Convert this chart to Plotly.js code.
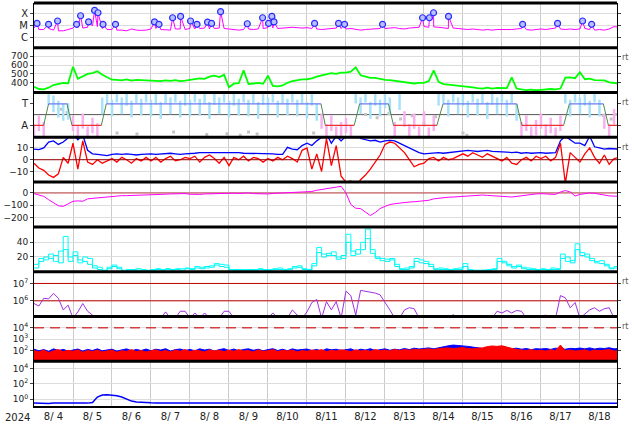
<!DOCTYPE html>
<html><head><meta charset="utf-8">
<script src="https://cdn.plot.ly/plotly-3.0.1.min.js"></script>
<style>html,body{margin:0;padding:0;background:#fff}#chart{width:634px;height:424px}</style>
</head><body><div id="chart"></div>
<script>
// ---------- categories / labels ----------
const dayLabels = ['8/ 4','8/ 5','8/ 6','8/ 7','8/ 8','8/ 9','8/10','8/11','8/12','8/13','8/14','8/15','8/16','8/17','8/18'];
const yearLabel = '2024';
const STEP = 0.125; // sample spacing in days (3 h)
const X_END = 14.95;

// ---------- panel 1: X-ray flux (units 1e-6 W/m2) ----------
const xrsBg = [
 6,4.5,4.5,5.5,4,3.5,3.5,4.5,  6,6.5,6,7,9,8,5.5,4.5,  4.5,4,4,3.5,5,4,3.8,4,  5,5.5,4.5,4.5,4,5,5,4.5,
 5.5,5,5.5,6,5,5.5,6,5.5,  5,4.5,4,4.5,5,4.5,5,5.5,  6.5,6,5.5,6,6.5,7,6.5,6,  6.5,5.5,5,4.5,5,5.5,6,5.5,
 5,5.5,4.5,4,4.5,5,5,5.5,  5.5,6,6.5,5.5,5,6,6.5,7,  8,7,7.5,7,6,5.5,6,5.5,  5,4.5,5,4.5,4,4.5,4,4.5,
 4.5,4,4.5,5,5.5,4.5,4,4.5,  5,4.5,5,6,5,4.5,5,4.5,  5,5.5,4.5,4,4.5,4,5,8,  7];
const flareT = [0.077,0.374,0.605,1.092,1.195,1.40,1.554,1.641,1.77,2.09,3.09,3.205,3.554,3.759,4.015,4.18,4.45,4.554,
 4.785,5.469,5.862,6.015,6.10,6.154,7.195,7.81,7.964,8.938,9.964,10.14,10.246,10.63,12.53,13.426,14.067,14.30];
const flareV = [15,12.5,24,12.5,67,20,190,120,12.5,12.5,20,12.5,45,59,24,12.5,19,15,
 150,14,45,15,59,20,15,15,12.5,12.5,45,45,120,59,12.5,15,24,12.5];
const xrsTickVals = [1e-4,1e-5,1e-6];
const xrsTickText = ['X','M','C'];

// ---------- panel 2: solar wind speed ----------
const speed = [
 355,330,327,345,375,390,398,395,  580,445,470,500,510,530,490,460,  435,432,428,438,425,432,430,426,
 430,425,420,428,422,430,418,425,  432,440,450,445,470,480,465,490,  350,390,395,540,385,392,398,388,
 480,365,360,370,400,420,430,438,  440,450,470,485,500,510,500,515,  515,525,575,485,470,455,455,440,
 433,430,422,415,405,398,392,400,  400,420,540,410,385,380,375,368,  365,355,348,340,335,345,335,342,
 345,340,460,335,325,318,322,316,  320,325,330,325,335,458,462,452,  520,440,448,430,425,428,405,398,  392];

// ---------- panel 3: IMF sector ----------
const sectorLevels = [0,1,0,1,0,1,0,1,0,1,0];     // 1 = T (toward), 0 = A (away)
const rampStart = [0.246,0.846,1.726,7.36,8.21,9.09,10.33,12.38,13.58,14.60];
const rampEnd   = [0.374,0.974,1.854,7.47,8.35,9.22,10.49,12.51,13.73,14.73];
const phi = [
 -0.3,0.1,-0.2,1.35,1.0,0.75,0.6,0.65,  0.1,-0.35,0.2,-0.4,0.0,-0.25,0.9,1.4,  0.8,1.45,0.9,1.3,0.75,1.4,0.85,1.45,
 0.8,1.35,0.7,1.4,0.9,1.45,0.75,1.3,  0.8,1.45,0.85,1.4,0.7,1.35,0.9,1.45,  0.75,1.3,0.85,1.45,0.8,1.4,0.7,1.35,
 0.9,1.45,0.75,1.4,0.85,1.45,0.8,1.4,  0.7,1.3,0.6,0.2,-0.3,0.1,-0.4,-0.2,  0.0,-0.35,1.4,0.9,1.45,0.7,1.3,0.8,
 1.2,0.9,-0.2,1.1,0.3,-0.3,0.2,-0.4,  0.3,-0.45,0.1,1.3,1.4,0.8,1.45,0.9,  1.3,0.75,1.45,0.85,1.4,0.7,1.35,0.9,
 1.45,0.8,1.4,0.6,-0.2,0.1,-0.4,-0.1,  0.2,-0.3,0.0,-0.45,0.1,1.4,0.8,1.45,  0.9,1.3,0.75,1.45,0.8,0.2,-0.3,0.4,  0.1];
const grayT = [0.70,0.85,2.13,2.64,3.58,4.43,4.95,5.29,5.50,5.72,7.17,8.50,8.80,9.10,9.40,9.70,10.00,10.30,11.00,11.10,14.60,14.80,14.90];
const grayV = [0.75,0.6,-0.35,-0.4,-0.3,-0.42,-0.38,-0.45,-0.3,-0.4,-0.35,0.5,0.35,0.55,0.3,0.45,0.1,0.4,-0.35,-0.45,0.45,0.3,0.5];

// ---------- panel 4: Bt / Bz ----------
const bt = [
 9,8.5,10,15,16,13,15,18,  22,17,21,8,5,4.5,4,3.5,  4.5,5,4.5,5,4.5,4,4.5,5,  5,4.5,5,5,5.5,5,4.5,5,
 5,5.5,6,6,6.5,6.5,6,6.5,  6.5,6,6,5.5,5.5,5,5.5,5,  5,5,4.5,4.5,10.5,9,8.5,12,  14,12,16,19,22,14,20,16,
 20,19,22,18,17,16,16.5,15,  16,16.5,16,14,12,10,8,6,  5,5.5,6,6,5.5,6,6.5,7,  7.5,8,7.5,7,7.5,8,7,7,
 7,6.5,6,6.5,5.5,6,5.5,6,  6,5.5,6,6,16,20,17,14,  14,12,20,11,10,9,9.5,9,  9];
const bz = [
 -3,-7,-9,-13,-15,-12,2,-3,  14,-8,16,-2,-4,0,-3,-1,  1,-2,2,0,-3,1,-1,2,  -1,2,-2,1,3,-1,0,2,
 1,3,-2,2,4,1,-3,2,  -5,2,0,3,-1,2,1,-2,  1,-1,2,0,3,1,-2,8,  10,-8,5,-10,18,-5,12,-14,
 -19,-18,-22,-17,-13,-8,-2,4,  13,15,14,10,6,0,-6,-4,  -3,1,2,-1,2,0,1,3,  5,3,6,4,2,5,3,1,
 -1,2,-3,-4,0,2,-1,3,  1,3,-1,2,14,-20,6,2,  -2,5,10,2,-3,4,-4,1,  2];

// ---------- panel 5: Dst ----------
const dst = [
 -5,-15,-28,-55,-80,-105,-110,-88,  -68,-65,-68,-48,-44,-40,-33,-28,  -25,-24,-22,-22,-21,-22,-20,-18,
 -16,-14,-12,-10,-8,-6,-8,-5,  -10,-14,-12,-8,-6,-4,-2,-4,  0,-2,-4,-2,0,-5,-8,-6,
 -8,-4,-2,0,2,5,10,8,  8,12,22,30,35,42,48,55,  0,-95,-125,-128,-160,-185,-160,-128,
 -110,-95,-88,-82,-76,-74,-72,-70,  -67,-60,-48,-42,-38,-35,-33,-30,  -25,-22,-20,-18,-17,-20,-22,-20,
 -25,-30,-33,-28,-18,-12,-10,-8,  -6,-10,-14,-12,8,20,8,-25,  -12,-5,0,-3,-10,-20,-24,-26,  -27];

// ---------- panel 6: two cyan indices ----------
const cyanA = [
 10,18,16,24,14,28,48,20,  27,12,20,18,8,6,2,6,  9,6,2,3,2,4,3,2,  3,4,3,3,2,4,4,5,
 4,7,6,5,8,11,10,9,  3,2,3,3,2,3,4,3,  3,4,5,3,4,7,8,4,  3,11,33,24,22,27,20,18,
 51,22,30,40,58,30,18,18,  17,16,10,4,5,7,18,16,  14,10,4,5,4,3,4,5,  11,3,2,2,2,3,4,18,
 14,8,7,9,6,5,4,3,  4,3,5,4,24,14,15,38,  26,20,18,14,15,10,5,7,  18];
const cyanB = [
 5,14,20,18,22,12,30,14,  22,16,14,10,5,3,1,4,  7,4,1,2,3,2,2,1,  2,3,2,4,3,3,2,4,
 3,5,4,7,6,9,7,6,  2,3,2,2,3,2,3,2,  2,3,3,2,3,5,6,3,  2,8,26,20,25,22,17,22,
 40,28,24,30,45,25,20,15,  14,18,7,3,3,5,14,12,  11,7,3,3,3,2,3,3,  7,2,1,1,2,2,3,14,
 12,10,5,7,4,3,3,2,  3,2,3,3,18,20,12,30,  22,24,15,12,11,8,4,5,  12];

// ---------- panel 7: electron flux ----------
const eFlux = [
 7e5,5e5,1.4e6,1.3e6,2.7e6,1.4e6,3e5,5.6e5,  1e5,2.3e5,7e5,2.5e5,1.5e5,1e5,1e5,1e5,  1e5,1e5,1e5,1e5,1e5,1e5,1e5,1e5,
 1e5,1e5,1e5,2.3e5,1e5,1e5,2.5e5,2.5e5,  1e5,2e5,1e5,2e5,1e5,1e5,1e5,2.5e5,  2.5e5,1e5,1e5,1.4e5,1e5,1e5,1e5,1e5,
 1e5,2e5,1e5,1e5,1e5,3e5,1.5e5,1e5,  2.3e5,8e5,1.2e6,1e5,9e5,3e5,9e5,1e5,  3.6e6,2e6,1.5e5,4e6,3.5e6,3e6,2.8e6,2.2e6,
 8.7e5,3e5,1e5,1e5,3e5,4e5,3.5e5,1e5,  1e5,1e5,1e5,1e5,1e5,1e5,1.6e5,1e5,  1e5,1e5,1e5,1e5,1.4e5,1e5,1e5,2.5e5,
 2e5,2.8e5,2e5,2.8e5,2.5e5,1e5,1e5,1e5,  1.3e5,1.5e5,1e5,1e5,2e6,1.5e6,4e5,8e5,  1e5,1.8e5,3e5,4e5,2.5e5,3.5e5,4e5,1e5,  1e5];
const eThresholds = [1e6, 1e7];

// ---------- panel 8: proton flux ----------
const pBlue = [
 130,95,120,85,140,100,125,90,  110,135,90,125,100,140,95,120,  130,90,115,140,95,125,100,135,
 95,130,110,145,90,120,135,100,  125,95,140,110,130,90,120,145,  100,135,95,125,140,105,130,95,
 120,145,100,130,95,140,110,125,  135,100,125,90,140,115,130,100,  120,140,95,130,110,145,100,125,
 140,105,130,115,150,120,160,135,  150,170,140,180,210,260,300,280,  270,230,200,170,150,180,160,200,
 230,180,140,160,130,150,120,145,  135,150,125,160,140,130,155,145,  165,140,170,135,160,150,175,140,  150];
const pRed = [
 100,75,110,65,95,120,80,105,  85,115,70,100,80,110,75,95,  110,70,95,85,120,80,100,75,
 90,115,80,100,75,110,85,120,  80,105,95,75,115,90,105,80,  110,85,120,90,100,75,115,85,
 95,120,80,105,90,110,75,100,  85,110,95,120,80,105,90,115,  100,80,115,90,105,85,120,95,
 110,90,125,100,120,105,130,115,  125,140,120,150,160,170,150,160,  180,150,140,160,170,220,250,230,
 260,200,150,120,110,100,120,95,  105,90,115,100,300,95,110,90,  100,115,85,110,95,105,120,90,  100];
const pThreshold = 1e4;

// ---------- panel 9: bottom flux ----------
const lowFlux = [
 0.3,0.28,0.3,0.27,0.3,0.29,0.28,0.3,  0.3,0.29,0.3,0.3,0.35,1.9,3.5,3.8,  3.6,2.8,1.9,1.0,0.55,0.42,0.36,0.34,
 0.33,0.32,0.32,0.31,0.3,0.31,0.3,0.3,  0.29,0.3,0.28,0.3,0.29,0.3,0.28,0.29,  0.3,0.29,0.28,0.3,0.29,0.28,0.3,0.29,
 0.28,0.3,0.29,0.28,0.3,0.29,0.3,0.28,  0.29,0.3,0.28,0.29,0.3,0.29,0.28,0.3,  0.3,0.29,0.3,0.28,0.29,0.3,0.29,0.28,
 0.29,0.28,0.3,0.29,0.3,0.28,0.29,0.3,  0.3,0.29,0.31,0.3,0.29,0.3,0.28,0.29,  0.29,0.3,0.29,0.31,0.3,0.29,0.3,0.29,
 0.3,0.29,0.28,0.3,0.29,0.3,0.29,0.28,  0.29,0.3,0.29,0.28,0.3,0.29,0.3,0.29,  0.28,0.29,0.3,0.29,0.28,0.3,0.29,0.3,  0.29];

// ---------- build ----------
const t3 = speed.map((_, i) => i * STEP);
const FONT = 'DejaVu Sans, sans-serif';
const traces = [];
function add(tr, panel) { tr.xaxis = 'x'; tr.yaxis = panel === 1 ? 'y' : 'y' + panel; tr.hoverinfo = 'skip'; traces.push(tr); }
function hline(val, panel, color, width, dash) {
  add({type:'scatter', mode:'lines', x:[0, X_END], y:[val, val], line:{color:color, width:width, dash:dash||'solid'}}, panel);
}

// panel 1
const xrsPts = t3.map((t, i) => [t, xrsBg[i]]).concat(flareT.map((t, i) => [t, flareV[i]])).sort((a, b) => a[0] - b[0]);
add({type:'scatter', mode:'lines', x:xrsPts.map(p => p[0]), y:xrsPts.map(p => p[1] * 1e-6), line:{color:'#ff00ff', width:1}}, 1);
add({type:'scatter', mode:'markers', x:flareT, y:flareV.map(v => v * 1e-6),
     marker:{symbol:'circle', size:6, color:'#b8c0ff', line:{color:'#2a2aff', width:1.2}}}, 1);

// panel 2
add({type:'scatter', mode:'lines', x:t3, y:speed, line:{color:'#00ff00', width:1.8}}, 2);

// panel 3
hline(0.5, 3, '#555555', 1);
add({type:'scatter', mode:'markers', x:grayT, y:grayV, marker:{color:'#c4c4c4', size:3, symbol:'square'}}, 3);
add({type:'scatter', mode:'markers', x:t3, y:phi.map(v => v >= 0.5 ? v : null),
     marker:{symbol:'line-ns-open', size:12, color:'#a8e2f8', line:{color:'#a8e2f8', width:2.5}}}, 3);
add({type:'scatter', mode:'markers', x:t3, y:phi.map(v => v < 0.5 ? v : null),
     marker:{symbol:'line-ns-open', size:11, color:'#f8b0ee', line:{color:'#f8b0ee', width:2.5}}}, 3);
(function() {
  const tx = [], ty = [], ax = [], ay = [], rx = [], ry = [];
  for (let i = 0; i < sectorLevels.length; i++) {
    const s = i === 0 ? 0 : rampEnd[i - 1];
    const e = i === sectorLevels.length - 1 ? X_END : rampStart[i];
    const lv = sectorLevels[i];
    const X = lv === 1 ? tx : ax, Y = lv === 1 ? ty : ay;
    X.push(s, e, null); Y.push(lv, lv, null);
    if (i < rampStart.length) { rx.push(rampStart[i], rampEnd[i], null); ry.push(lv, sectorLevels[i + 1], null); }
  }
  add({type:'scatter', mode:'lines', x:rx, y:ry, line:{color:'#4f8a4f', width:1}}, 3);
  add({type:'scatter', mode:'lines', x:tx, y:ty, line:{color:'#6c78f0', width:1.2}}, 3);
  add({type:'scatter', mode:'lines', x:ax, y:ay, line:{color:'#ee3030', width:1.2}}, 3);
})();

// panel 4
add({type:'scatter', mode:'lines', x:t3, y:bt, line:{color:'#0000ff', width:1.3}}, 4);
add({type:'scatter', mode:'lines', x:t3, y:bz, line:{color:'#ff0000', width:1.3}}, 4);
hline(0, 4, '#990000', 1);

// panel 5
hline(0, 5, '#c04040', 1);
add({type:'scatter', mode:'lines', x:t3, y:dst, line:{color:'#ff00ff', width:1}}, 5);

// panel 6
add({type:'scatter', mode:'lines', x:t3, y:cyanB, line:{color:'#00f0f0', width:1, shape:'hv'}}, 6);
add({type:'scatter', mode:'lines', x:t3, y:cyanA, line:{color:'#00ffff', width:1, shape:'hv'}}, 6);

// panel 7
eThresholds.forEach(v => hline(v, 7, '#c00000', 1));
add({type:'scatter', mode:'lines', x:t3, y:eFlux, line:{color:'#a030e0', width:1}}, 7);

// panel 8
add({type:'scatter', mode:'lines', x:t3, y:pBlue, fill:'tozeroy', fillcolor:'#0000ff', line:{color:'#0000ff', width:1}}, 8);
add({type:'scatter', mode:'lines', x:t3, y:pRed, fill:'tozeroy', fillcolor:'#ff0000', line:{color:'#ff0000', width:1}}, 8);
hline(pThreshold, 8, '#d04040', 1.5, '10px,6px');

// panel 9
add({type:'scatter', mode:'lines', x:t3, y:lowFlux, line:{color:'#0000ff', width:1.5}}, 9);

// ---------- layout ----------
const NP = 9;
const dom = i => [1 - (i + 1) / NP, 1 - i / NP];
const tickfont = {family: FONT, size: 9, color: '#222'};
const baseY = {showline:true, linecolor:'#000', linewidth:1, mirror:'allticks', ticks:'outside', ticklen:3,
  tickcolor:'#444', showgrid:true, gridcolor:'#dcdcdc', zeroline:false, fixedrange:true, automargin:false,
  tickfont:tickfont, anchor:'x'};
const yaxes = [
  {type:'log', range:[-6.9, -3.09], tickmode:'array', tickvals:xrsTickVals, ticktext:xrsTickText, tickfont:{family:FONT, size:10, color:'#222'}},
  {range:[290, 795], tickmode:'array', tickvals:[400,500,600,700]},
  {range:[-0.55, 1.52], tickmode:'array', tickvals:[1, 0], ticktext:['T','A'], showgrid:false, tickfont:{family:FONT, size:10, color:'#222'}},
  {range:[-19, 19], tickmode:'array', tickvals:[-10, 0, 10]},
  {range:[-278, 89], tickmode:'array', tickvals:[-200, -100, 0]},
  {range:[0, 61], tickmode:'array', tickvals:[20, 40]},
  {type:'log', range:[5.10, 7.68], tickmode:'array', tickvals:[1e6, 1e7], ticktext:['10<sup>6</sup>','10<sup>7</sup>']},
  {type:'log', range:[1.06, 4.99], tickmode:'array', tickvals:[1e2,1e3,1e4], ticktext:['10<sup>2</sup>','10<sup>3</sup>','10<sup>4</sup>']},
  {type:'log', range:[-0.9, 4.97], tickmode:'array', tickvals:[1,1e2,1e4], ticktext:['10<sup>0</sup>','10<sup>2</sup>','10<sup>4</sup>']}
];
const layout = {
  width:634, height:424, margin:{l:34, r:17, t:3, b:18},
  paper_bgcolor:'#fff', plot_bgcolor:'#fff', showlegend:false, hovermode:false,
  font:{family:FONT, size:10, color:'#222'},
  xaxis:{range:[0, X_END], anchor:'y9', domain:[0,1], tickmode:'array',
    tickvals:dayLabels.map((_, i) => i + 0.5), ticktext:dayLabels, ticks:'', showgrid:false,
    minor:{tickmode:'array', tickvals:dayLabels.map((_, i) => i).concat([dayLabels.length]), showgrid:true, gridcolor:'#cccccc', gridwidth:1, ticks:''},
    showline:true, linecolor:'#000', linewidth:2, zeroline:false, fixedrange:true,
    tickfont:{family:FONT, size:10, color:'#222'}, automargin:false},
  shapes:[], annotations:[]
};
yaxes.forEach((a, i) => {
  const key = i === 0 ? 'yaxis' : 'yaxis' + (i + 1);
  layout[key] = Object.assign({}, baseY, a, {domain: dom(i)});
});
for (let k = 0; k < NP; k++) {
  const y = 1 - k / NP;
  layout.shapes.push({type:'line', xref:'paper', yref:'paper', x0:0, x1:1, y0:y, y1:y, line:{color:'#000', width:3}});
}
layout.annotations.push({text:yearLabel, xref:'paper', yref:'paper', x:0, y:0, xanchor:'right', yanchor:'top',
  xshift:-2, yshift:-4, showarrow:false, font:{family:FONT, size:10, color:'#222'}});
[1, 2, 3, 6, 7].forEach(i => {
  layout.annotations.push({text:'rt', xref:'paper', yref:'paper', x:1, y:dom(i)[1], xanchor:'left', yanchor:'middle',
    xshift:3, yshift:-10, showarrow:false, font:{family:FONT, size:8, color:'#555'}});
});

Plotly.newPlot('chart', traces, layout, {staticPlot:true, displayModeBar:false});
</script>
</body></html>
